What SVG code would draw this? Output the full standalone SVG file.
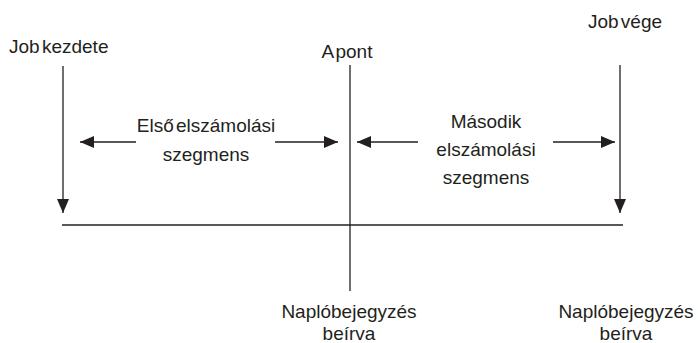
<svg xmlns="http://www.w3.org/2000/svg" width="698" height="343" viewBox="0 0 698 343">
<defs>
<style>
text{font-family:"Liberation Sans",Arial,sans-serif;font-size:19px;fill:#231f20;word-spacing:-3px}
.ln{stroke:#231f20;stroke-width:1.3;fill:none}
.ah{fill:#231f20}
</style>
<marker id="arr" viewBox="0 0 14 12" refX="14" refY="6" markerWidth="14" markerHeight="12" markerUnits="userSpaceOnUse" orient="auto"><path d="M0,0L14,6L0,12Z" class="ah"/></marker>
</defs>
<rect width="698" height="343" fill="#fff"/>
<g id="connectors">
<line class="ln" x1="63" y1="66" x2="63" y2="213" marker-end="url(#arr)"/>
<line class="ln" x1="620" y1="65" x2="620" y2="213" marker-end="url(#arr)"/>
<line class="ln" x1="350" y1="65" x2="350" y2="291"/>
<line class="ln" x1="62" y1="225" x2="623" y2="225"/>
<line class="ln" x1="136" y1="142" x2="80" y2="142" marker-end="url(#arr)"/>
<line class="ln" x1="275" y1="142" x2="338" y2="142" marker-end="url(#arr)"/>
<line class="ln" x1="418" y1="142" x2="357" y2="142" marker-end="url(#arr)"/>
<line class="ln" x1="553" y1="142" x2="615" y2="142" marker-end="url(#arr)"/>
</g>
<g id="job-kezdete"><text x="9" y="53">Job kezdete</text></g>
<g id="a-pont"><text x="347" y="58" text-anchor="middle">A pont</text></g>
<g id="job-vege"><text x="625" y="28" text-anchor="middle">Job vége</text></g>
<g id="elso"><text x="206" y="132" text-anchor="middle">Első elszámolási</text><text x="206" y="161" text-anchor="middle">szegmens</text></g>
<g id="masodik"><text x="486" y="128" text-anchor="middle">Második</text><text x="486" y="156" text-anchor="middle">elszámolási</text><text x="486" y="184" text-anchor="middle">szegmens</text></g>
<g id="naplo1"><text x="349" y="318" text-anchor="middle">Naplóbejegyzés</text><text x="349" y="340" text-anchor="middle">beírva</text></g>
<g id="naplo2"><text x="626" y="318" text-anchor="middle">Naplóbejegyzés</text><text x="626" y="340" text-anchor="middle">beírva</text></g>
</svg>
